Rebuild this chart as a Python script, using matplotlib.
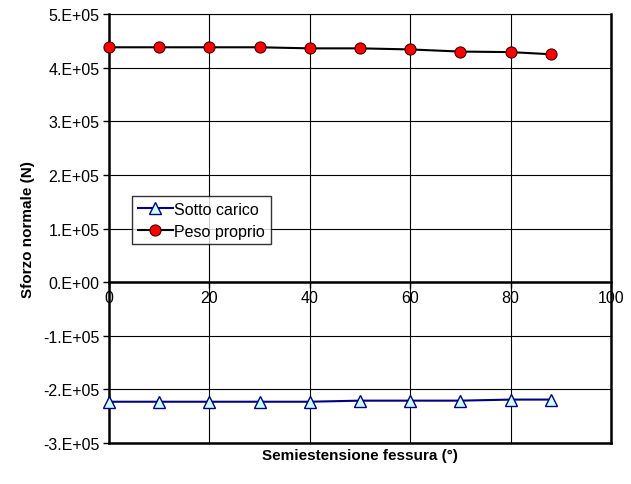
import matplotlib
matplotlib.use("Agg")
import matplotlib.pyplot as plt
from matplotlib.ticker import FuncFormatter, MultipleLocator

# data
angles = [0, 10, 20, 30, 40, 50, 60, 70, 80, 88]
sotto_carico = [-2.23e5, -2.23e5, -2.23e5, -2.23e5, -2.23e5,
                -2.21e5, -2.21e5, -2.21e5, -2.19e5, -2.19e5]
peso_proprio = [4.38e5, 4.38e5, 4.38e5, 4.38e5, 4.36e5,
                4.36e5, 4.34e5, 4.30e5, 4.29e5, 4.25e5]

plt.rcParams['font.family'] = ['Liberation Sans', 'DejaVu Sans']


def sci_label(v, pos):
    """Excel-style 0.E+00 labels"""
    if abs(v) < 1:
        return "0.E+00"
    return f"{v / 1e5:.0f}.E+05"


fig = plt.figure(figsize=(6.31, 4.85), dpi=100)
ax = fig.add_axes([0.1727, 0.0845, 0.7956, 0.8845])

ax.plot(angles, sotto_carico, color='#000080', linewidth=1.5, marker='^',
        markersize=8, markerfacecolor='#CCFFFF', markeredgecolor='#000080',
        markeredgewidth=1.0, label='Sotto carico', zorder=3, clip_on=False)
ax.plot(angles, peso_proprio, color='black', linewidth=1.5, marker='o',
        markersize=8, markerfacecolor='red', markeredgecolor='#400000',
        markeredgewidth=0.8, label='Peso proprio', zorder=3, clip_on=False)

ax.set_xlim(0, 100)
ax.set_ylim(-3e5, 5e5)
ax.xaxis.set_major_locator(MultipleLocator(20))
ax.yaxis.set_major_locator(MultipleLocator(1e5))
ax.yaxis.set_major_formatter(FuncFormatter(sci_label))

ax.grid(True, color='black', linewidth=0.8)
ax.set_axisbelow(True)

# x axis crosses at zero, keep a frame around the plot area
ax.spines['bottom'].set_position(('data', 0))
for side in ['bottom', 'left', 'right', 'top']:
    ax.spines[side].set_linewidth(1.8)
ax.spines['top'].set_linewidth(0.8)
ax.axhline(-3e5, color='black', linewidth=1.8, clip_on=False)

ax.tick_params(axis='x', direction='out', length=4, width=1, pad=2,
               labelsize=11.5)
ax.tick_params(axis='y', direction='out', length=4, width=1, pad=3,
               labelsize=11.5)

ax.set_ylabel('Sforzo normale (N)', fontsize=11, fontweight='bold', labelpad=6)
fig.text(0.57, 0.060, 'Semiestensione fessura (°)', fontsize=11,
         fontweight='bold', ha='center', va='center')

leg = ax.legend(loc='upper left', bbox_to_anchor=(0.046, 0.576),
                fontsize=11.5, frameon=True, fancybox=False,
                borderpad=0.35, labelspacing=0.45, handlelength=2.2,
                handletextpad=0.1, borderaxespad=0)
leg.get_frame().set_edgecolor('black')
leg.get_frame().set_linewidth(1.0)

fig.savefig('out.png', dpi=100)
